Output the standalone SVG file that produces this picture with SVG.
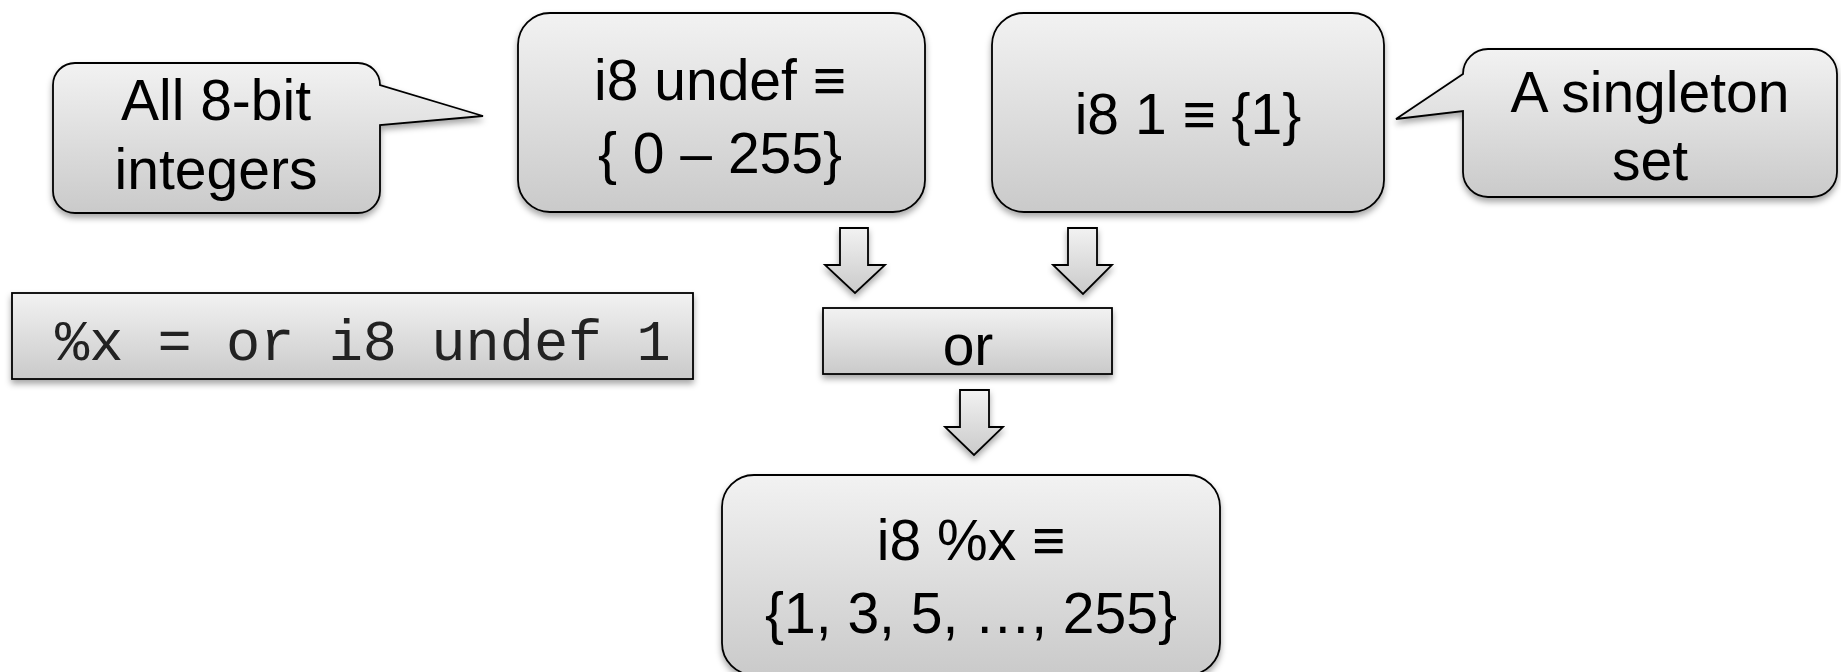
<svg xmlns="http://www.w3.org/2000/svg" width="1841" height="672" viewBox="0 0 1841 672">
  <defs>
    <linearGradient id="fillGrad" x1="0" y1="0" x2="0" y2="1">
      <stop offset="0" stop-color="#f2f2f2"/>
      <stop offset="1" stop-color="#cacaca"/>
    </linearGradient>
    <filter id="shadow" x="-10%" y="-10%" width="120%" height="130%">
      <feDropShadow dx="0" dy="4" stdDeviation="3" flood-color="#000" flood-opacity="0.35"/>
    </filter>
  </defs>
  <style>
    .shape { fill: url(#fillGrad); stroke: #000; stroke-width: 1.8; filter: url(#shadow); }
    .label { font-family: "Liberation Sans", Arial, "DejaVu Sans", sans-serif; font-size: 57px; fill: #000; text-anchor: middle; }
    .code { font-family: "Liberation Mono", "Courier New", monospace; font-size: 57px; fill: #222; }
  </style>

  <!-- callout: all 8-bit integers -->
  <g id="callout-undef">
    <path class="shape" d="M75,63 H358 A22,22 0 0 1 380,85 L483,116 L380,125 V191 A22,22 0 0 1 358,213 H75 A22,22 0 0 1 53,191 V85 A22,22 0 0 1 75,63 Z"/>
    <text class="label" x="216" y="120">All 8-bit</text>
    <text class="label" x="216" y="189">integers</text>
  </g>

  <!-- i8 undef operand -->
  <g id="node-undef">
    <rect class="shape" x="518" y="13" width="407" height="199" rx="32" ry="32"/>
    <text class="label" x="720" y="100">i8 undef ≡</text>
    <text class="label" x="720" y="173">{ 0 – 255}</text>
  </g>

  <!-- i8 1 operand -->
  <g id="node-one">
    <rect class="shape" x="992" y="13" width="392" height="199" rx="32" ry="32"/>
    <text class="label" x="1188" y="134">i8 1 ≡ {1}</text>
  </g>

  <!-- callout: singleton set -->
  <g id="callout-one">
    <path class="shape" d="M1488,49 H1812 A25,25 0 0 1 1837,74 V172 A25,25 0 0 1 1812,197 H1488 A25,25 0 0 1 1463,172 V111 L1396,119 L1463,74 A25,25 0 0 1 1488,49 Z"/>
    <text class="label" x="1650" y="112">A singleton</text>
    <text class="label" x="1650" y="180">set</text>
  </g>

  <!-- instruction -->
  <g id="node-code">
    <rect class="shape" x="12" y="293" width="681" height="86"/>
    <text class="code" x="55" y="360">%x = or i8 undef 1</text>
  </g>

  <!-- or operation -->
  <g id="node-or">
    <rect class="shape" x="823" y="308" width="289" height="66"/>
    <text class="label" x="968" y="365">or</text>
  </g>

  <!-- result -->
  <g id="node-result">
    <rect class="shape" x="722" y="475" width="498" height="200" rx="32" ry="32"/>
    <text class="label" x="971" y="560">i8 %x ≡</text>
    <text class="label" x="971" y="633">{1, 3, 5, …, 255}</text>
  </g>

  <!-- block arrows -->
  <g id="connectors">
    <path class="shape" d="M840,228 H868 V265 H885 L855,293 L825,265 H840 Z"/>
    <path class="shape" d="M1068,228 H1097 V265 H1112 L1083,294 L1053,265 H1068 Z"/>
    <path class="shape" d="M960,390 H989 V427 H1003 L974,455 L945,427 H960 Z"/>
  </g>
</svg>
